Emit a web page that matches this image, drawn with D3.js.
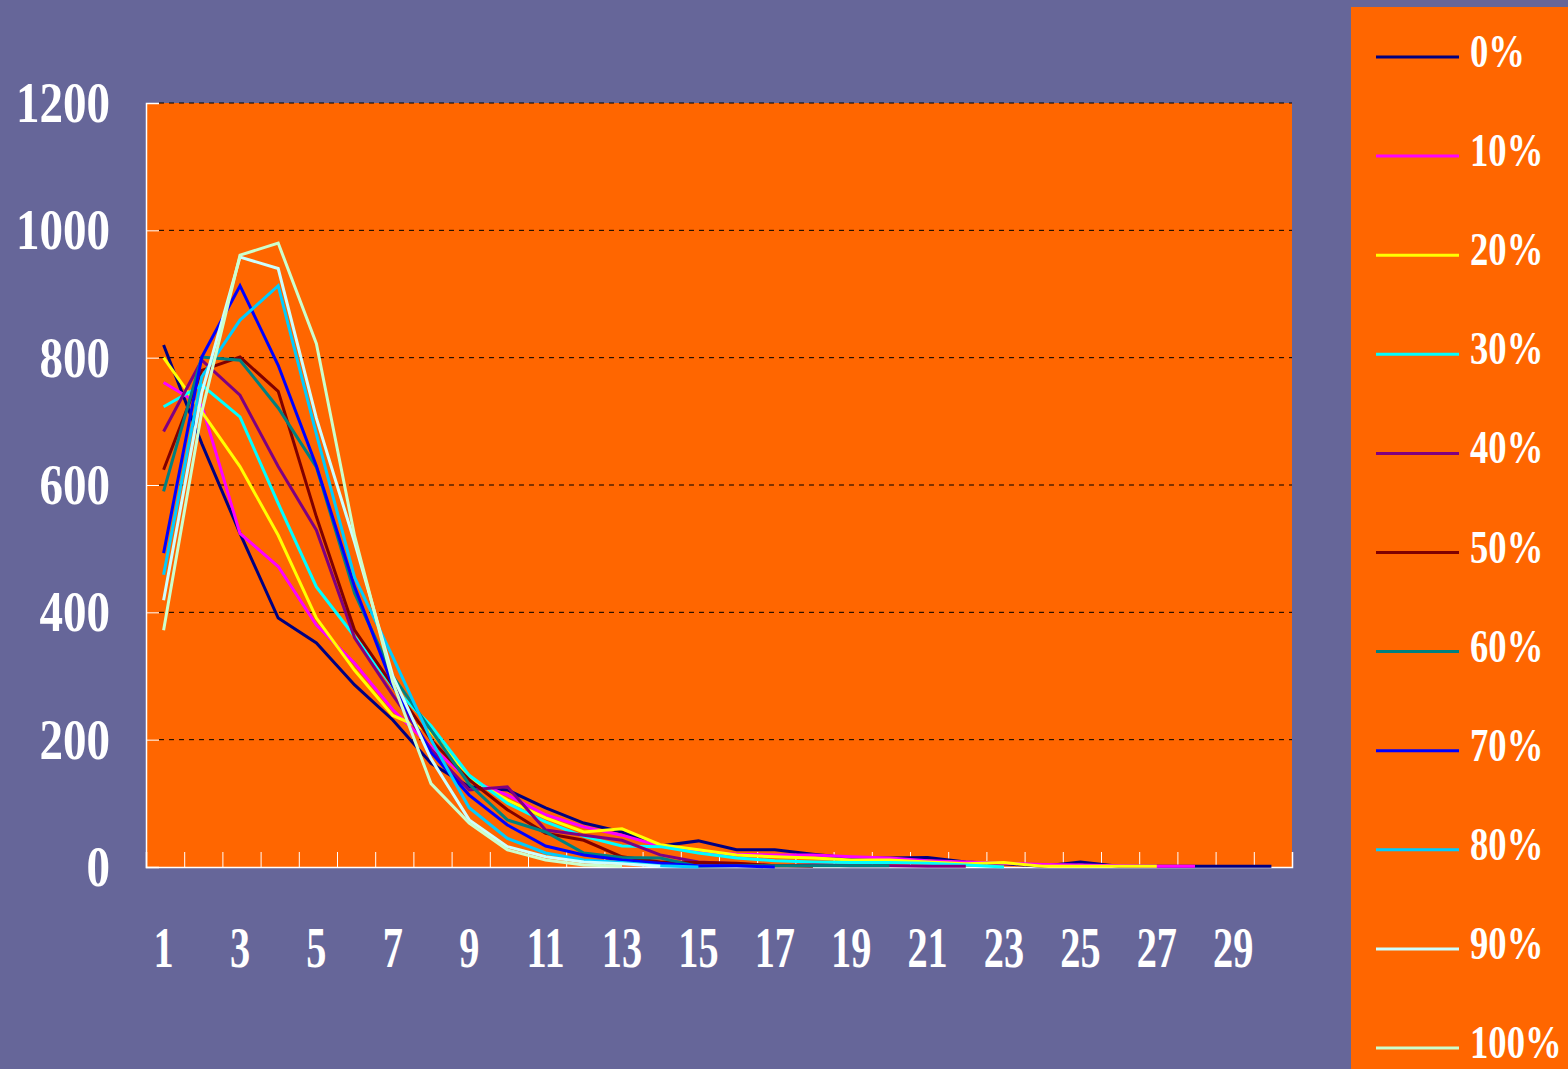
<!DOCTYPE html>
<html>
<head>
<meta charset="utf-8">
<script src="https://cdn.jsdelivr.net/npm/d3@7"></script>
<style>
  body { margin: 0; background: #666699; }
  svg { display: block; }
  text { font-family: "Liberation Serif", "Times New Roman", serif; font-weight: bold; fill: #ffffff; }
</style>
</head>
<body>
<svg id="chart" width="1568" height="1069"></svg>
<script>
// categories along the x axis
const categories = [1, 2, 3, 4, 5, 6, 7, 8, 9, 10, 11, 12, 13, 14, 15,
  16, 17, 18, 19, 20, 21, 22, 23, 24, 25, 26, 27, 28, 29, 30]
const xTickLabels = [1, 3, 5, 7, 9, 11, 13, 15, 17, 19, 21, 23, 25, 27, 29]
const yTickValues = [0, 200, 400, 600, 800, 1000, 1200]

// one array per series (series end where the line stops)
const share0 = [820, 665, 524, 391, 352, 286, 231, 163, 126, 121, 93, 69, 55, 33, 41,
  27, 27, 20, 14, 14, 15, 8, 5, 1, 8, 1, 1, 1, 1, 1]
const share10 = [761, 725, 524, 472, 380, 320, 247, 189, 137, 113, 82, 63, 50, 33, 24,
  20, 19, 19, 16, 14, 10, 8, 6, 4, 3, 2, 1, 1]
const share20 = [800, 715, 629, 521, 391, 309, 238, 212, 140, 105, 77, 55, 60, 35, 27,
  19, 16, 14, 11, 11, 8, 5, 7, 1, 1, 1, 1]
const share30 = [723, 757, 707, 571, 440, 362, 283, 222, 144, 100, 71, 48, 33, 32, 22,
  14, 10, 8, 7, 7, 6, 3, 0]
const share40 = [684, 796, 741, 629, 529, 360, 270, 185, 121, 126, 58, 50, 42, 19, 8,
  5, 2, 3, 2, 2, 1, 1]
const share50 = [624, 780, 801, 747, 550, 372, 285, 200, 137, 90, 53, 42, 16, 8, 7,
  6, 2, 1]
const share60 = [590, 801, 796, 721, 628, 430, 300, 215, 130, 74, 55, 22, 15, 14, 1,
  2, 2, 2, 2, 2]
const share70 = [493, 801, 913, 788, 630, 440, 285, 180, 113, 66, 33, 19, 11, 6, 2,
  2, 0]
const share80 = [459, 770, 859, 913, 680, 455, 330, 200, 93, 45, 22, 11, 7, 2, 0]
const share90 = [419, 745, 958, 940, 705, 510, 300, 170, 74, 32, 16, 8, 5, 1]
const share100 = [372, 715, 961, 980, 822, 520, 290, 131, 69, 27, 11, 3, 1]

const seriesNames = ["0%", "10%", "20%", "30%", "40%", "50%", "60%", "70%", "80%", "90%", "100%"]
const seriesColors = ["#000080", "#ff00ff", "#ffff00", "#00ffff", "#800080", "#800000",
  "#008080", "#0000ff", "#00ccff", "#ccffff", "#ccffcc"]
const seriesValues = [share0, share10, share20, share30, share40, share50,
  share60, share70, share80, share90, share100]

const dimensions = {
  plot: { left: 146, right: 1292, top: 103, bottom: 867 },
  legend: { x: 1351, y: 7, width: 217, height: 1062 }
}

const svg = d3.select("#chart")

// scales
const xScale = d3.scaleBand()
  .domain(categories)
  .range([dimensions.plot.left, dimensions.plot.right])
const xCenter = c => xScale(c) + xScale.bandwidth() / 2 - 1.5
const yScale = d3.scaleLinear()
  .domain([0, 1200])
  .range([dimensions.plot.bottom, dimensions.plot.top])

// plot area
svg.append("rect")
  .attr("x", dimensions.plot.left)
  .attr("y", dimensions.plot.top)
  .attr("width", dimensions.plot.right - dimensions.plot.left)
  .attr("height", dimensions.plot.bottom - dimensions.plot.top)
  .attr("fill", "#ff6600")

// dashed grid lines
svg.append("g")
  .selectAll("line")
  .data(yTickValues.filter(v => v > 0))
  .join("line")
    .attr("x1", dimensions.plot.left + 13)
    .attr("x2", dimensions.plot.right)
    .attr("y1", d => yScale(d))
    .attr("y2", d => yScale(d))
    .attr("stroke", "#000000")
    .attr("stroke-width", 1)
    .attr("stroke-dasharray", "5,5")

// y axis, ticks pointing inward
const yAxis = svg.append("g")
  .attr("transform", `translate(${dimensions.plot.left},0)`)
  .call(d3.axisRight(yScale).tickValues(yTickValues).tickSize(13).tickFormat(""))
yAxis.select(".domain").attr("stroke", "#ffffff").attr("stroke-width", 1.5)
yAxis.selectAll(".tick line").attr("stroke", "#ffffff")

svg.append("g")
  .selectAll("text")
  .data(yTickValues)
  .join("text")
    .attr("transform", d => `translate(110,${yScale(d) + 19}) scale(0.84,1)`)
    .attr("text-anchor", "end")
    .style("font-size", "56px")
    .text(d => d)

// x axis: boundary ticks pointing up
const boundaryScale = d3.scaleLinear()
  .domain([0, categories.length])
  .range([dimensions.plot.left, dimensions.plot.right])
const xAxis = svg.append("g")
  .attr("transform", `translate(0,${dimensions.plot.bottom})`)
  .call(d3.axisTop(boundaryScale)
    .tickValues(d3.range(0, categories.length + 1))
    .tickSize(15)
    .tickFormat(""))
xAxis.select(".domain").attr("stroke", "#ffffff").attr("stroke-width", 1.5)
xAxis.selectAll(".tick line").attr("stroke", "#ffffff")

svg.append("g")
  .selectAll("text")
  .data(xTickLabels)
  .join("text")
    .attr("transform", d => `translate(${xCenter(d)},967) scale(0.72,1)`)
    .attr("text-anchor", "middle")
    .style("font-size", "56px")
    .text(d => d)

// series lines
const lineGenerator = d3.line()
  .x((d, i) => xCenter(categories[i]))
  .y(d => yScale(d))

svg.append("g")
  .selectAll("path")
  .data(seriesValues)
  .join("path")
    .attr("d", d => lineGenerator(d))
    .attr("fill", "none")
    .attr("stroke", (d, i) => seriesColors[i])
    .attr("stroke-width", 3)
    .attr("stroke-linejoin", "miter")

// legend
svg.append("rect")
  .attr("x", dimensions.legend.x)
  .attr("y", dimensions.legend.y)
  .attr("width", dimensions.legend.width)
  .attr("height", dimensions.legend.height)
  .attr("fill", "#ff6600")

const legendItems = svg.append("g")
  .selectAll("g")
  .data(seriesNames)
  .join("g")
    .attr("transform", (d, i) => `translate(0,${57 + i * 99.1})`)

legendItems.append("line")
  .attr("x1", 1376)
  .attr("x2", 1459)
  .attr("stroke", (d, i) => seriesColors[i])
  .attr("stroke-width", 3)

legendItems.append("text")
  .attr("transform", "translate(1470,10) scale(0.78,1)")
  .style("font-size", "47px")
  .text(d => d)
</script>
</body>
</html>
